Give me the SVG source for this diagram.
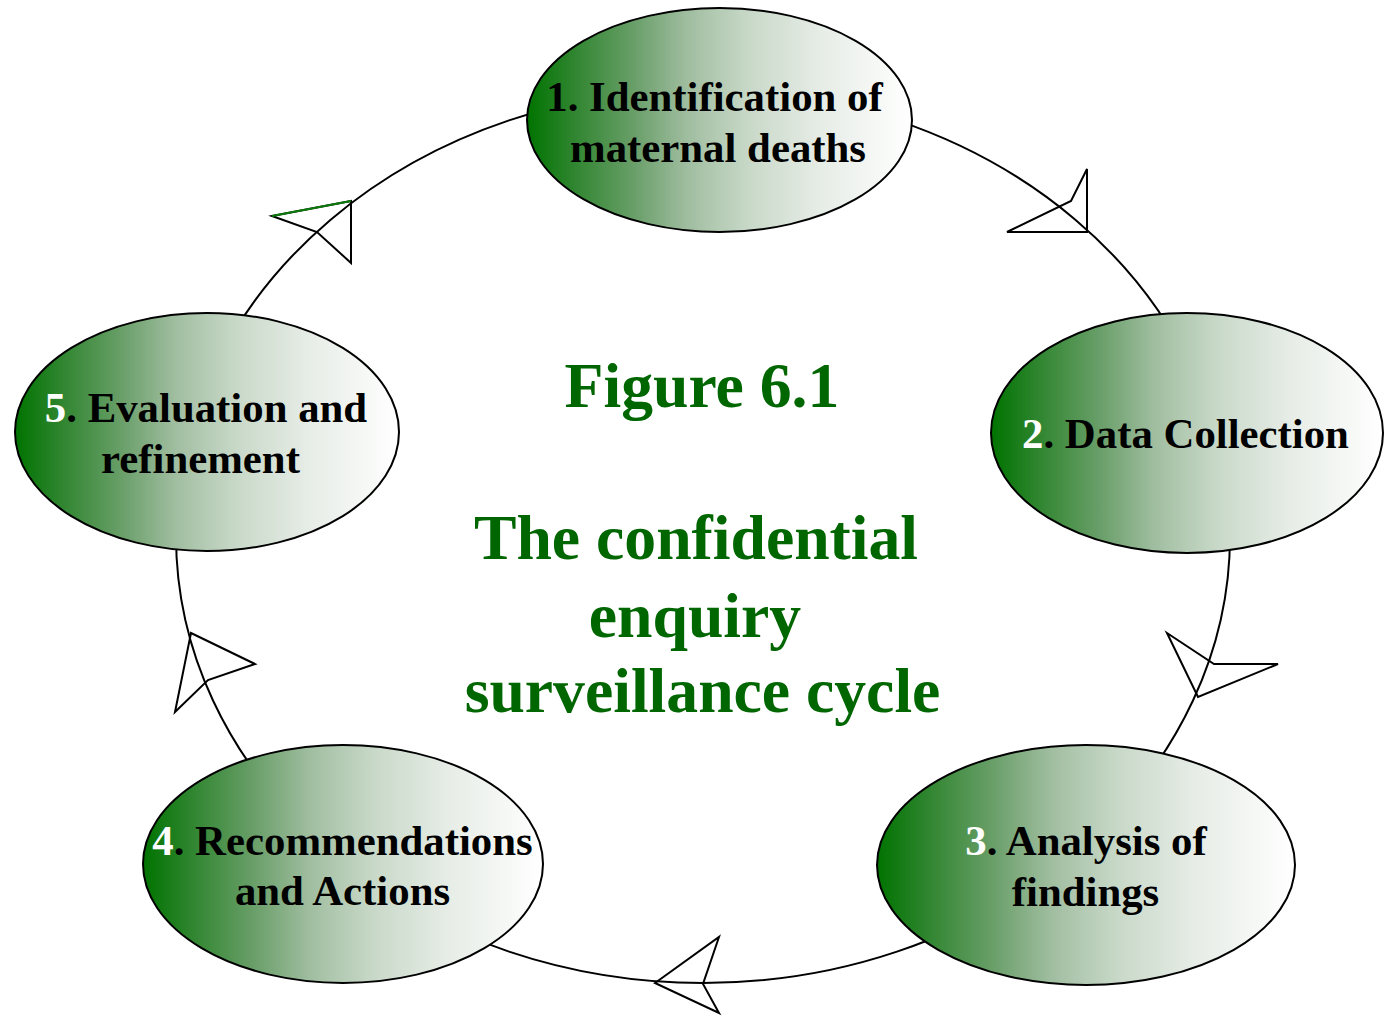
<svg xmlns="http://www.w3.org/2000/svg" width="1384" height="1016" viewBox="0 0 1384 1016">
  <defs>
    <!-- green-to-white horizontal fill shared by every stage -->
    <linearGradient id="stageFill" x1="0" y1="0" x2="1" y2="0">
      <stop offset="0" stop-color="#007300"/>
      <stop offset="0.12" stop-color="#2f852f"/>
      <stop offset="0.28" stop-color="#6a9f6a"/>
      <stop offset="0.42" stop-color="#a1bea1"/>
      <stop offset="0.58" stop-color="#c9d9c9"/>
      <stop offset="0.76" stop-color="#e6ece6"/>
      <stop offset="1" stop-color="#ffffff"/>
    </linearGradient>
    <style>
      .ring { fill: none; stroke: #000; stroke-width: 2; }
      .head { fill: none; stroke: #000; stroke-width: 2; stroke-linejoin: miter; }
      .stage { fill: url(#stageFill); stroke: #000; stroke-width: 2; }
      .label { font-family: "Liberation Serif", "Times New Roman", serif; font-weight: bold; font-size: 42.8px; fill: #000; text-anchor: middle; }
      .num { fill: #fff; }
      .title { font-family: "Liberation Serif", "Times New Roman", serif; font-weight: bold; font-size: 63.7px; fill: #006600; text-anchor: middle; }
    </style>
  </defs>

  <rect width="1384" height="1016" fill="#fff"/>

  <!-- cycle ring and direction heads -->
  <g id="connectors">
    <ellipse class="ring" cx="703" cy="536" rx="527" ry="447"/>
    <polygon class="head" points="272,216 351,201 351,263 317,232"/>
    <line x1="272" y1="216" x2="351" y2="201" stroke="#0a7a0a" stroke-width="2"/>
    <polygon class="head" points="1087,169 1071,201 1007,232 1087,232"/>
    <polygon class="head" points="1167,633 1214,664 1278,664 1198,697"/>
    <polygon class="head" points="719,937 703,984 719,1013 655,983"/>
    <polygon class="head" points="191,633 255,664 208,680 175,712"/>
  </g>

  <!-- centre caption -->
  <g id="caption">
    <text class="title" x="702" y="407">Figure 6.1</text>
    <text class="title" x="696" y="559">The confidential</text>
    <text class="title" x="695" y="637">enquiry</text>
    <text class="title" x="702.5" y="712">surveillance cycle</text>
  </g>

  <g id="stage1">
    <ellipse class="stage" cx="719.5" cy="120" rx="192.5" ry="112"/>
    <text class="label" x="714.5" y="111">1. Identification of</text>
    <text class="label" x="718" y="162">maternal deaths</text>
  </g>

  <g id="stage2">
    <ellipse class="stage" cx="1187" cy="433" rx="196" ry="120"/>
    <text class="label" x="1185.5" y="448"><tspan class="num">2</tspan>. Data Collection</text>
  </g>

  <g id="stage3">
    <ellipse class="stage" cx="1086" cy="865" rx="209" ry="120"/>
    <text class="label" x="1086" y="855"><tspan class="num">3</tspan>. Analysis of</text>
    <text class="label" x="1085.5" y="906">findings</text>
  </g>

  <g id="stage4">
    <ellipse class="stage" cx="343" cy="864" rx="200" ry="119"/>
    <text class="label" x="342.5" y="855"><tspan class="num">4</tspan>. Recommendations</text>
    <text class="label" x="342.5" y="905">and Actions</text>
  </g>

  <g id="stage5">
    <ellipse class="stage" cx="207" cy="432" rx="192" ry="119"/>
    <text class="label" x="206" y="422"><tspan class="num">5</tspan>. Evaluation and</text>
    <text class="label" x="200.5" y="473">refinement</text>
  </g>
</svg>
